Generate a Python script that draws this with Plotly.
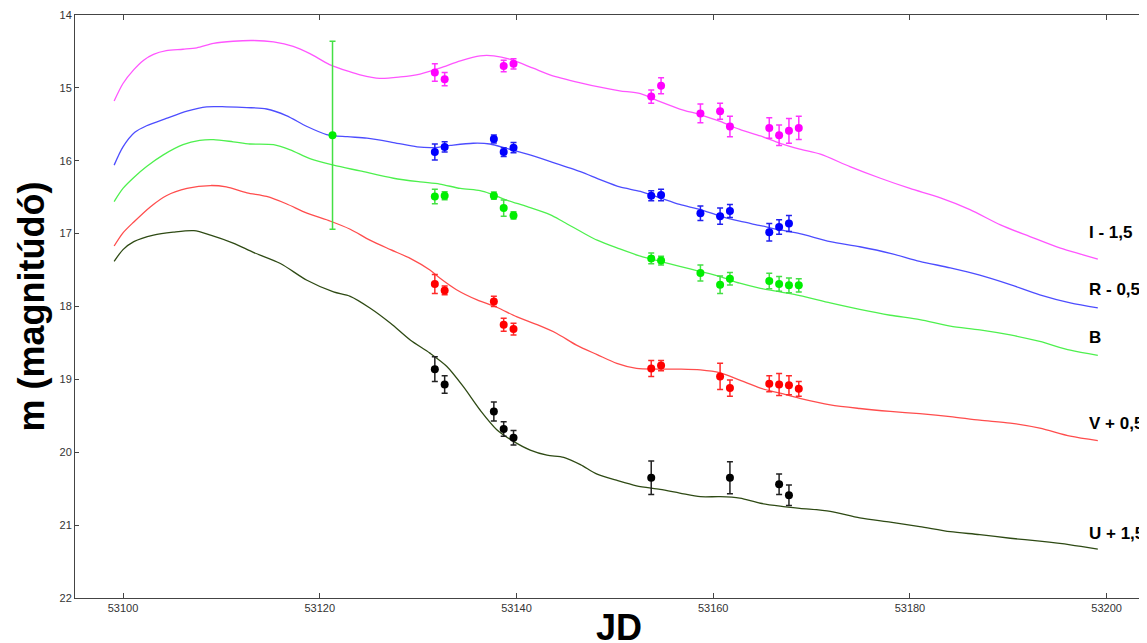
import plotly.graph_objects as go

# ---------------- observed photometry ----------------
I_jd = [53131.7, 53132.7, 53138.7, 53139.7, 53153.7, 53154.7, 53158.7, 53160.7, 53161.7, 53165.7, 53166.7, 53167.7, 53168.7]
I_mag = [14.79, 14.88, 14.70, 14.67, 15.12, 14.97, 15.35, 15.32, 15.53, 15.55, 15.65, 15.59, 15.55]
I_err = [0.12, 0.09, 0.08, 0.07, 0.09, 0.11, 0.13, 0.11, 0.14, 0.14, 0.14, 0.17, 0.16]

R_jd = [53131.7, 53132.7, 53137.7, 53138.7, 53139.7, 53153.7, 53154.7, 53158.7, 53160.7, 53161.7, 53165.7, 53166.7, 53167.7]
R_mag = [15.88, 15.81, 15.70, 15.88, 15.82, 16.48, 16.47, 16.72, 16.76, 16.69, 16.98, 16.91, 16.86]
R_err = [0.11, 0.07, 0.055, 0.06, 0.07, 0.07, 0.08, 0.10, 0.11, 0.09, 0.12, 0.10, 0.11]

B_jd = [53121.3, 53131.7, 53132.7, 53137.7, 53138.7, 53139.7, 53153.7, 53154.7, 53158.7, 53160.7, 53161.7, 53165.7, 53166.7, 53167.7, 53168.7]
B_mag = [15.65, 16.49, 16.48, 16.48, 16.65, 16.75, 17.34, 17.37, 17.54, 17.70, 17.62, 17.65, 17.69, 17.71, 17.71]
B_err = [1.29, 0.10, 0.055, 0.05, 0.11, 0.05, 0.075, 0.06, 0.11, 0.12, 0.085, 0.105, 0.10, 0.10, 0.09]

V_jd = [53131.7, 53132.7, 53137.7, 53138.7, 53139.7, 53153.7, 53154.7, 53160.7, 53161.7, 53165.7, 53166.7, 53167.7, 53168.7]
V_mag = [17.69, 17.78, 17.93, 18.25, 18.31, 18.85, 18.81, 18.96, 19.12, 19.06, 19.07, 19.08, 19.13]
V_err = [0.13, 0.06, 0.07, 0.09, 0.08, 0.11, 0.07, 0.18, 0.11, 0.11, 0.15, 0.13, 0.10]

U_jd = [53131.7, 53132.7, 53137.7, 53138.7, 53139.7, 53153.7, 53161.7, 53166.7, 53167.7]
U_mag = [18.86, 19.07, 19.44, 19.68, 19.80, 20.35, 20.35, 20.44, 20.59]
U_err = [0.17, 0.12, 0.13, 0.10, 0.10, 0.23, 0.22, 0.14, 0.14]

# ---------------- model light curves ----------------
I_model_jd = [53099.1, 53100.0, 53101.1, 53102.1, 53103.1, 53104.4, 53106.1, 53107.5, 53109.2, 53111.2,
              53113.3, 53115.3, 53117.3, 53119.0, 53121.0, 53123.1, 53124.1, 53126.1, 53128.2, 53130.2,
              53132.2, 53134.3, 53136.3, 53137.7, 53139.4, 53141.7, 53143.4, 53146.5, 53148.5, 53150.5,
              53152.6, 53154.6, 53156.6, 53158.7, 53160.7, 53162.7, 53164.8, 53166.8, 53168.8, 53170.9,
              53173.9, 53177.0, 53180.0, 53183.1, 53186.1, 53189.2, 53192.2, 53195.3, 53197.6, 53199.1]
I_model = [15.18, 14.94, 14.75, 14.62, 14.54, 14.49, 14.47, 14.45, 14.39, 14.36,
           14.35, 14.37, 14.43, 14.53, 14.68, 14.78, 14.82, 14.87, 14.85, 14.81,
           14.73, 14.63, 14.56, 14.56, 14.61, 14.73, 14.82, 14.93, 14.99, 15.04,
           15.08, 15.19, 15.29, 15.37, 15.46, 15.57, 15.66, 15.76, 15.84, 15.91,
           16.08, 16.24, 16.38, 16.51, 16.67, 16.88, 17.04, 17.20, 17.29, 17.35]

R_model_jd = [53099.1, 53100.0, 53101.2, 53102.4, 53104.4, 53106.5, 53108.5, 53110.5, 53112.6, 53114.6,
              53116.6, 53118.7, 53120.7, 53122.8, 53124.8, 53127.5, 53129.9, 53131.6, 53133.3, 53135.6,
              53137.3, 53139.0, 53141.1, 53143.4, 53146.5, 53148.5, 53150.5, 53152.6, 53154.6, 53156.6,
              53158.7, 53160.7, 53162.7, 53164.8, 53166.8, 53168.8, 53171.9, 53174.9, 53178.0, 53181.0,
              53184.1, 53187.1, 53190.2, 53193.2, 53196.3, 53199.1]
R_model = [16.06, 15.81, 15.61, 15.52, 15.42, 15.32, 15.26, 15.26, 15.27, 15.29,
           15.38, 15.53, 15.64, 15.67, 15.69, 15.75, 15.81, 15.82, 15.79, 15.76,
           15.77, 15.83, 15.91, 16.01, 16.15, 16.26, 16.36, 16.42, 16.51, 16.60,
           16.67, 16.76, 16.83, 16.89, 16.95, 17.00, 17.11, 17.18, 17.27, 17.38,
           17.47, 17.57, 17.70, 17.84, 17.95, 18.02]

B_model_jd = [53099.1, 53100.0, 53101.1, 53102.4, 53104.1, 53106.1, 53107.8, 53109.2, 53111.2, 53112.9,
              53115.3, 53117.0, 53119.0, 53121.4, 53124.1, 53127.5, 53130.2, 53132.2, 53134.3, 53136.3,
              53137.3, 53139.0, 53141.1, 53143.4, 53144.8, 53148.2, 53150.5, 53152.6, 53154.6, 53156.6,
              53158.7, 53160.7, 53162.7, 53164.8, 53166.8, 53168.8, 53171.9, 53174.9, 53178.0, 53181.0,
              53184.1, 53187.1, 53190.2, 53193.2, 53196.3, 53199.1]
B_model = [16.56, 16.38, 16.23, 16.08, 15.92, 15.78, 15.72, 15.71, 15.74, 15.77,
           15.78, 15.85, 15.97, 16.06, 16.14, 16.24, 16.29, 16.32, 16.38, 16.41,
           16.45, 16.54, 16.63, 16.74, 16.84, 17.09, 17.21, 17.31, 17.38, 17.45,
           17.52, 17.59, 17.68, 17.75, 17.80, 17.85, 17.95, 18.04, 18.12, 18.18,
           18.27, 18.32, 18.39, 18.48, 18.60, 18.67]

V_model_jd = [53099.1, 53100.0, 53101.1, 53102.8, 53104.4, 53106.5, 53108.9, 53110.5, 53112.6, 53114.6,
              53116.6, 53118.7, 53121.1, 53123.1, 53125.1, 53127.2, 53129.2, 53131.2, 53132.2, 53133.9,
              53136.0, 53138.0, 53140.0, 53142.1, 53144.1, 53146.1, 53148.2, 53150.2, 53152.2, 53154.3,
              53156.6, 53158.7, 53160.7, 53162.7, 53164.8, 53166.8, 53168.8, 53171.9, 53174.9, 53178.0,
              53181.0, 53184.1, 53187.1, 53190.2, 53193.2, 53196.3, 53199.1]
V_model = [17.17, 16.99, 16.84, 16.63, 16.48, 16.38, 16.34, 16.36, 16.44, 16.49,
           16.59, 16.72, 16.83, 16.94, 17.09, 17.22, 17.34, 17.50, 17.61, 17.77,
           17.91, 18.01, 18.14, 18.25, 18.37, 18.53, 18.66, 18.78, 18.85, 18.86,
           18.86, 18.87, 18.91, 19.01, 19.12, 19.19, 19.26, 19.35, 19.40, 19.44,
           19.47, 19.51, 19.56, 19.60, 19.67, 19.78, 19.84]

U_model_jd = [53099.1, 53100.0, 53101.1, 53103.1, 53105.1, 53107.2, 53108.9, 53111.2, 53113.3, 53116.0,
              53118.7, 53121.4, 53123.1, 53125.1, 53127.2, 53129.2, 53131.2, 53132.9, 53134.6, 53136.3,
              53138.0, 53139.7, 53141.4, 53143.1, 53144.8, 53146.5, 53148.2, 53150.3, 53152.2, 53154.6,
              53156.6, 53158.7, 53160.7, 53162.7, 53164.8, 53166.8, 53168.8, 53171.9, 53174.9, 53178.0,
              53181.0, 53184.1, 53187.1, 53190.2, 53193.2, 53196.3, 53199.1]
U_model = [17.38, 17.22, 17.11, 17.02, 16.98, 16.96, 17.02, 17.13, 17.26, 17.41,
           17.64, 17.80, 17.86, 18.02, 18.23, 18.46, 18.64, 18.82, 19.10, 19.42,
           19.69, 19.85, 19.97, 20.04, 20.07, 20.17, 20.30, 20.39, 20.46, 20.51,
           20.56, 20.61, 20.61, 20.63, 20.70, 20.74, 20.77, 20.81, 20.90, 20.96,
           21.02, 21.09, 21.13, 21.18, 21.22, 21.27, 21.33]

band_labels = ["I - 1,5", "R - 0,5", "B", "V + 0,5", "U + 1,5"]
label_y = [16.99, 17.76, 18.42, 19.61, 21.11]
label_x = 53198.0

x_ticks = [53100, 53120, 53140, 53160, 53180, 53200]
y_ticks = [14, 15, 16, 17, 18, 19, 20, 21, 22]

# ---------------- figure ----------------
fig = go.Figure()

models = [
    (I_model_jd, I_model, "#ff55ff"),
    (R_model_jd, R_model, "#4d4dff"),
    (B_model_jd, B_model, "#4ef04e"),
    (V_model_jd, V_model, "#ff4d4d"),
    (U_model_jd, U_model, "#2e4a14"),
]
for xs, ys, col in models:
    fig.add_trace(go.Scatter(x=xs, y=ys, mode="lines",
                             line=dict(color=col, width=1.3, shape="spline", smoothing=0.8),
                             hoverinfo="skip"))

obs = [
    (I_jd, I_mag, I_err, "#ff00ff", "#ff33ff"),
    (R_jd, R_mag, R_err, "#0000ff", "#2222ee"),
    (B_jd, B_mag, B_err, "#00ee00", "#44e044"),
    (V_jd, V_mag, V_err, "#ff0000", "#ff2a2a"),
    (U_jd, U_mag, U_err, "#000000", "#222222"),
]
for xs, ys, es, mcol, ecol in obs:
    fig.add_trace(go.Scatter(x=xs, y=ys, mode="markers",
                             marker=dict(color=mcol, size=8),
                             error_y=dict(type="data", array=es, visible=True,
                                          color=ecol, thickness=1.5, width=3)))

for txt, yv in zip(band_labels, label_y):
    fig.add_annotation(x=label_x, y=yv, text="<b>" + txt + "</b>", showarrow=False,
                       xanchor="left", yanchor="middle",
                       font=dict(family="Liberation Sans, Arial, sans-serif", size=17, color="#000000"))

# axis titles as annotations
fig.add_annotation(xref="paper", yref="paper", x=0.507, y=-0.012, text="<b>JD</b>",
                   showarrow=False, xanchor="center", yanchor="top",
                   font=dict(family="Liberation Sans, Arial, sans-serif", size=36, color="#000000"))
fig.add_annotation(xref="paper", yref="paper", x=-0.041, y=0.5, text="<b>m (magnitúdó)</b>",
                   showarrow=False, xanchor="center", yanchor="middle", textangle=-90,
                   font=dict(family="Liberation Sans, Arial, sans-serif", size=36, color="#000000"))

tickfont = dict(family="Liberation Sans Narrow, Arial Narrow, Liberation Sans, sans-serif",
                size=11, color="#333333")

# the page body adds an 8px offset, so the figure is sized to fit the window
fig.update_layout(
    width=1139, height=635,
    margin=dict(l=67, r=0, t=7, b=45),
    paper_bgcolor="white", plot_bgcolor="white",
    showlegend=False,
    xaxis=dict(range=[53095.12, 53204.1], tickvals=x_ticks, tickformat="d", ticks="inside", ticklen=5,
               tickcolor="#444444", showline=True, linecolor="#444444", linewidth=1,
               mirror="ticks", showgrid=False, zeroline=False, tickfont=tickfont),
    yaxis=dict(range=[22, 14], tickvals=y_ticks, ticks="inside", ticklen=4,
               tickcolor="#444444", showline=True, linecolor="#444444", linewidth=1,
               showgrid=False, zeroline=False, tickfont=tickfont),
)

fig.write_html("out.html")
